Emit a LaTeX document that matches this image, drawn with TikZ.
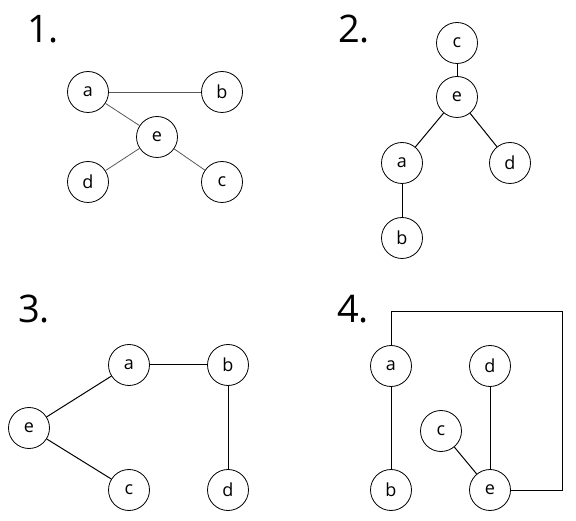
\documentclass[tikz,border=0pt]{standalone}
\usepackage{fontspec}
\setmainfont{Open Sans}
\usetikzlibrary{positioning}

\begin{document}
\begin{tikzpicture}[
  x=1pt, y=-1pt,
  vtx/.style={circle, draw, line width=0.8pt, minimum size=41pt,
    inner sep=0pt, font=\fontsize{18}{18}\selectfont},
  num/.style={anchor=base west, inner sep=0pt,
    font=\fontsize{38}{38}\selectfont},
  edgeA/.style={draw=black!65, line width=0.8pt},
  edgeB/.style={draw=black, line width=1pt},
]
\useasboundingbox (0,0) rectangle (576,521);

% panel numbers
\node[num] (n1) at (27,43) {1.};
\node[num] (n2) at (338,43) {2.};
\node[num] (n3) at (18,323) {3.};
\node[num] (n4) at (337,323) {4.};

% 1.
\foreach \lbl/\x/\y in {a/88/92, b/222/92, e/157/137, d/88/182, c/222/182}{
  \node[vtx] (\lbl1) at (\x,\y) {\lbl};
}
\draw[edgeA] (a1) -- (b1);
\draw[edgeA] (a1) -- (e1);
\draw[edgeA] (e1) -- (d1);
\draw[edgeA] (e1) -- (c1);

% 2.
\foreach \lbl/\x/\y in {c/457/43, e/457/97, a/402/163, d/510/163, b/402/238}{
  \node[vtx] (\lbl2) at (\x,\y) {\lbl};
}
\draw[edgeB] (c2) -- (e2);
\draw[edgeB] (e2) -- (a2);
\draw[edgeB] (e2) -- (d2);
\draw[edgeB] (a2) -- (b2);

% 3.
\foreach \lbl/\x/\y in {a/129/365, b/228/365, e/29/428, c/129/490, d/228/490}{
  \node[vtx] (\lbl3) at (\x,\y) {\lbl};
}
\draw[edgeB] (a3) -- (b3);
\draw[edgeB] (b3) -- (d3);
\draw[edgeB] (e3) -- (a3);
\draw[edgeB] (e3) -- (c3);

% 4.
\foreach \lbl/\x/\y in {a/391/366, d/490/366, c/441/431, b/391/490, e/490/490}{
  \node[vtx] (\lbl4) at (\x,\y) {\lbl};
}
\coordinate (top4) at (391,312);
\coordinate (rgt4) at (562,312);
\draw[edgeB] (a4) -- (b4);
\draw[edgeB] (d4) -- (e4);
\draw[edgeB] (c4) -- (e4);
\draw[edgeB] (a4.north) -- (top4) -- (rgt4) |- (e4.east);

\end{tikzpicture}
\end{document}
